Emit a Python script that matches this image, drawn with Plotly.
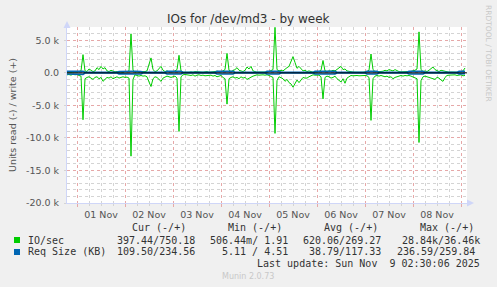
import plotly.graph_objects as go
import pandas as pd

# ---------------- data (hourly, starting Oct 31 19:00) ----------------
START = "2025-10-31 19:00"
END = "2025-11-09 03:00"

io_write = [
    100, 150, 80, 120, 200, 100, 150, 300, 2800,
    300, 200, 600, 400, 200, 300, 800, 500, 1000, 600, 800, 300, 200, 400, 300, 150, 200, 100, 150, 100, 200, 150, 300,
    6000,
    400, 100, 150, 100, 200, 150, 200, 300, 1500, 2300, 500, 200, 300, 600, 1000, 400, 200, 300, 150, 200, 150, 300, 500,
    2700,
    300, 100, 80, 120, 100, 150, 100, 200, 150, 100, 120, 100, 150, 200, 100, 150, 200, 150, 250, 200, 150, 300, 500,
    3000,
    400, 200, 300, 500, 800, 400, 300, 200, 400, 900, 600, 1000, 300, 150, 100, 120, 100, 150, 100, 120, 200, 300, 500,
    7000,
    500, 300, 400, 300, 600, 800, 1000, 1800, 2500, 1600, 700, 1000, 600, 300, 400, 200, 300, 150, 100, 150, 100, 200, 400,
    1900,
    300, 200, 300, 250, 400, 300, 500, 700, 1000, 500, 600, 300, 200, 100, 120, 100, 80, 100, 120, 100, 150, 200, 400,
    2900,
    500, 200, 150, 200, 150, 250, 400, 300, 500, 400, 300, 500, 300, 200, 150, 200, 150, 200, 150, 200, 300, 400, 600,
    6300,
    500, 200, 300, 200, 400, 600, 900, 500, 300, 200, 400, 300, 200, 100, 100, 120, 100, 150, 100, 200, 150, 300, 750,
]

io_read = [
    300, 250, 350, 200, 300, 250, 400, 500, 7200,
    900, 700, 600, 800, 1000, 700, 600, 900, 700, 1300, 1000, 700, 800, 600, 900, 700, 600, 800, 700, 600, 700, 650, 800,
    12800,
    1000, 300, 400, 500, 400, 500, 450, 600, 1400, 2100, 900, 600, 700, 1000, 1300, 800, 600, 500, 600, 700, 600, 500, 800,
    9000,
    600, 300, 250, 300, 350, 400, 300, 500, 350, 300, 400, 350, 450, 400, 300, 350, 500, 400, 600, 500, 400, 700, 900,
    4800,
    900, 700, 600, 800, 700, 900, 600, 800, 700, 1000, 800, 700, 500, 400, 300, 350, 300, 300, 350, 300, 400, 500, 700,
    9300,
    1200, 600, 700, 900, 1300, 1000, 1500, 1700, 2200, 1600, 1100, 1500, 1000, 700, 800, 800, 600, 400, 300, 350, 300, 350, 600,
    4000,
    700, 500, 600, 800, 700, 500, 900, 1100, 1400, 900, 1600, 800, 600, 400, 450, 400, 400, 450, 400, 350, 400, 450, 700,
    7300,
    900, 500, 400, 500, 400, 500, 600, 500, 700, 600, 900, 700, 600, 500, 400, 500, 400, 450, 400, 500, 600, 700, 900,
    10700,
    1200, 600, 500, 600, 700, 800, 900, 1000, 700, 800, 1100, 1300, 700, 400, 350, 300, 350, 300, 400, 350, 300, 450, 397,
]

req_write = [
    230, 240, 250, 235, 245, 240, 250, 245, 260, 90, 80, 85, 70, 75, 80, 90, 85, 80, 75, 80, 85, 90, 80, 75,
    80, 85, 220, 240, 250, 245, 235, 250, 260, 245, 240, 230, 225, 210, 90, 85, 80, 75, 80, 85, 90, 80, 85, 80,
    75, 80, 230, 240, 250, 245, 240, 235, 250, 230, 90, 85, 80, 75, 80, 85, 90, 80, 85, 80, 75, 80, 85, 90,
    80, 85, 80, 225, 240, 250, 245, 240, 235, 250, 245, 230, 90, 85, 80, 75, 80, 85, 90, 80, 85, 80, 75, 80,
    85, 80, 90, 80, 230, 245, 250, 240, 235, 250, 245, 90, 85, 80, 75, 80, 85, 90, 80, 85, 80, 75, 80, 85,
    80, 85, 90, 80, 230, 240, 250, 245, 240, 235, 250, 245, 240, 230, 225, 90, 85, 80, 75, 80, 85, 90, 80, 85,
    80, 75, 80, 85, 90, 80, 235, 245, 250, 240, 245, 230, 90, 85, 80, 75, 80, 85, 90, 80, 85, 80, 75, 80,
    85, 80, 90, 230, 240, 250, 245, 260, 240, 235, 225, 90, 85, 80, 75, 80, 85, 90, 80, 85, 80, 75, 80, 85,
    80, 85, 90, 80, 225, 240, 250, 235,
]

req_read = [
    170, 180, 190, 175, 185, 180, 190, 200, 237, 25, 20, 22, 18, 20, 25, 20, 22, 18, 20, 25, 20, 22, 18, 20,
    22, 20, 160, 175, 185, 190, 180, 200, 220, 195, 185, 175, 165, 150, 25, 20, 22, 18, 20, 25, 20, 22, 18, 20,
    22, 18, 170, 180, 190, 185, 180, 200, 210, 175, 25, 20, 22, 18, 20, 25, 20, 22, 18, 20, 25, 20, 22, 18,
    20, 22, 18, 165, 180, 190, 185, 180, 200, 210, 190, 175, 25, 20, 22, 18, 20, 25, 20, 22, 18, 20, 25, 20,
    22, 18, 20, 25, 170, 185, 190, 200, 215, 185, 175, 25, 20, 22, 18, 20, 25, 20, 22, 18, 20, 25, 20, 22,
    18, 20, 22, 25, 165, 180, 190, 185, 200, 210, 195, 185, 180, 170, 160, 25, 20, 22, 18, 20, 25, 20, 22, 18,
    20, 25, 22, 18, 20, 25, 175, 185, 200, 195, 185, 170, 25, 20, 22, 18, 20, 25, 20, 22, 18, 20, 25, 20,
    22, 18, 20, 170, 185, 190, 200, 220, 195, 185, 175, 25, 20, 22, 18, 20, 25, 20, 22, 18, 20, 25, 20, 22,
    18, 20, 22, 25, 160, 175, 190, 110,
]

y_tick_vals = [-20000, -15000, -10000, -5000, 0, 5000]
y_tick_text = ["-20.0 k", "-15.0 k", "-10.0 k", "-5.0 k", "0.0", "5.0 k"]

series_names = ["IO/sec", "Req Size (KB)"]
series_colors = ["#00CC00", "#0066B3"]
legend_headers = ["Cur (-/+)", "Min (-/+)", "Avg (-/+)", "Max (-/+)"]
legend_io = ["397.44/750.18", "506.44m/ 1.91", "620.06/269.27", "28.84k/36.46k"]
legend_req = ["109.50/234.56", "5.11 / 4.51", "38.79/117.33", "236.59/259.84"]
last_update = "Last update: Sun Nov  9 02:30:06 2025"


def hours(values):
    return pd.date_range(START, periods=len(values), freq="h")


# ---------------- geometry helpers (pixel -> paper) ----------------
W, H = 497, 287
L, R, T, B = 67, 467, 27, 203


def px(x):
    return (x - L) / (R - L)


def py(y):
    return (B - y) / (B - T)


fig = go.Figure()

fig.add_trace(go.Scatter(x=hours(io_read), y=[-v for v in io_read], mode="lines",
                         line=dict(color=series_colors[0], width=1), showlegend=False, hoverinfo="skip"))
fig.add_trace(go.Scatter(x=hours(io_write), y=io_write, mode="lines",
                         line=dict(color=series_colors[0], width=1), showlegend=False, hoverinfo="skip"))
fig.add_trace(go.Scatter(x=hours(req_read), y=[-v for v in req_read], mode="lines",
                         line=dict(color=series_colors[1], width=1.6), showlegend=False, hoverinfo="skip"))
fig.add_trace(go.Scatter(x=hours(req_write), y=req_write, mode="lines",
                         line=dict(color=series_colors[1], width=1.6), showlegend=False, hoverinfo="skip"))

AXC = "#CFD6F8"
MAJ = "#E6A8A8"
MIN = "#D4D4D4"
TICKFONT = dict(family="DejaVu Sans", size=9.5, color="#555555")

fig.update_layout(
    width=W, height=H, autosize=False,
    margin=dict(l=L, r=W - R, t=T, b=H - B, pad=0),
    paper_bgcolor="#F0F0F0", plot_bgcolor="#FFFFFF",
    showlegend=False,
    xaxis=dict(
        type="date", range=[START, END], tick0="2025-11-01", dtick=86400000,
        tickformat="%d %b", ticklabelmode="period",
        showgrid=True, gridcolor=MAJ, griddash="dot", gridwidth=1,
        ticks="outside", ticklen=3, tickcolor=MAJ,
        minor=dict(dtick=6 * 3600000, showgrid=True, gridcolor=MIN, griddash="dot",
                   ticks="outside", ticklen=2, tickcolor=MIN),
        showline=True, linecolor=AXC, linewidth=1, zeroline=False,
        tickfont=TICKFONT, fixedrange=True,
    ),
    yaxis=dict(
        range=[-20000, 7050], tickmode="array", tickvals=y_tick_vals, ticktext=y_tick_text,
        showgrid=True, gridcolor=MAJ, griddash="dot", gridwidth=1,
        ticks="outside", ticklen=2, tickcolor=MIN,
        minor=dict(tickmode="linear", tick0=0, dtick=1000, showgrid=True, gridcolor=MIN,
                   griddash="dot"),
        showline=True, linecolor=AXC, linewidth=1, zeroline=False,
        tickfont=TICKFONT, fixedrange=True, ticklabelstandoff=3,
    ),
)

shapes = [
    dict(type="line", xref="paper", yref="y", x0=0, x1=1, y0=0, y1=0,
         line=dict(color="#000000", width=1), layer="above"),
    dict(type="path", xref="paper", yref="paper",
         path=f"M {px(63.5)} {py(28)} L {px(70.5)} {py(28)} L {px(67)} {py(21)} Z",
         fillcolor=AXC, line=dict(width=0)),
    dict(type="path", xref="paper", yref="paper",
         path=f"M {px(467)} {py(199.5)} L {px(467)} {py(206.5)} L {px(474)} {py(203)} Z",
         fillcolor=AXC, line=dict(width=0)),
    dict(type="rect", xref="paper", yref="paper", x0=px(14), x1=px(20), y0=py(243), y1=py(237),
         fillcolor=series_colors[0], line=dict(width=0)),
    dict(type="rect", xref="paper", yref="paper", x0=px(14), x1=px(20), y0=py(255), y1=py(249),
         fillcolor=series_colors[1], line=dict(width=0)),
]
fig.update_layout(shapes=shapes)

MONO = dict(family="DejaVu Sans Mono", size=10, color="#333333")
ann = []


def txt(x, y, text, xanchor="left", font=MONO, angle=0, yanchor="middle"):
    ann.append(dict(x=px(x), y=py(y), xref="paper", yref="paper", text=text, showarrow=False,
                    xanchor=xanchor, yanchor=yanchor, font=font, textangle=angle))


txt(248.5, 19.5, "IOs for /dev/md3 - by week", xanchor="center",
    font=dict(family="DejaVu Sans", size=12, color="#333333"))
txt(12, 115, "Units read (-) / write (+)", xanchor="center",
    font=dict(family="DejaVu Sans", size=9.5, color="#555555"), angle=-90)
txt(489, 53, "RRDTOOL / TOBI OETIKER", xanchor="center",
    font=dict(family="DejaVu Sans", size=7.5, color="#C8C8C8"), angle=90)

header_ends = [187.5, 284, 380, 476]
io_ends = [196.7, 290, 383.3, 482.3]
req_ends = [196.7, 290, 383.3, 476.7]
for h, e in zip(legend_headers, header_ends):
    txt(e, 227.7, h, xanchor="right")
txt(26, 240, series_names[0])
txt(26, 251.7, series_names[1])
for v, e in zip(legend_io, io_ends):
    txt(e, 240, v, xanchor="right")
for v, e in zip(legend_req, req_ends):
    txt(e, 251.7, v, xanchor="right")
txt(482.3, 263.3, last_update, xanchor="right")
txt(248, 276.3, "Munin 2.0.73", xanchor="center",
    font=dict(family="DejaVu Sans", size=8, color="#C8C8C8"))

fig.update_layout(annotations=ann)

fig.write_html("out.html")
